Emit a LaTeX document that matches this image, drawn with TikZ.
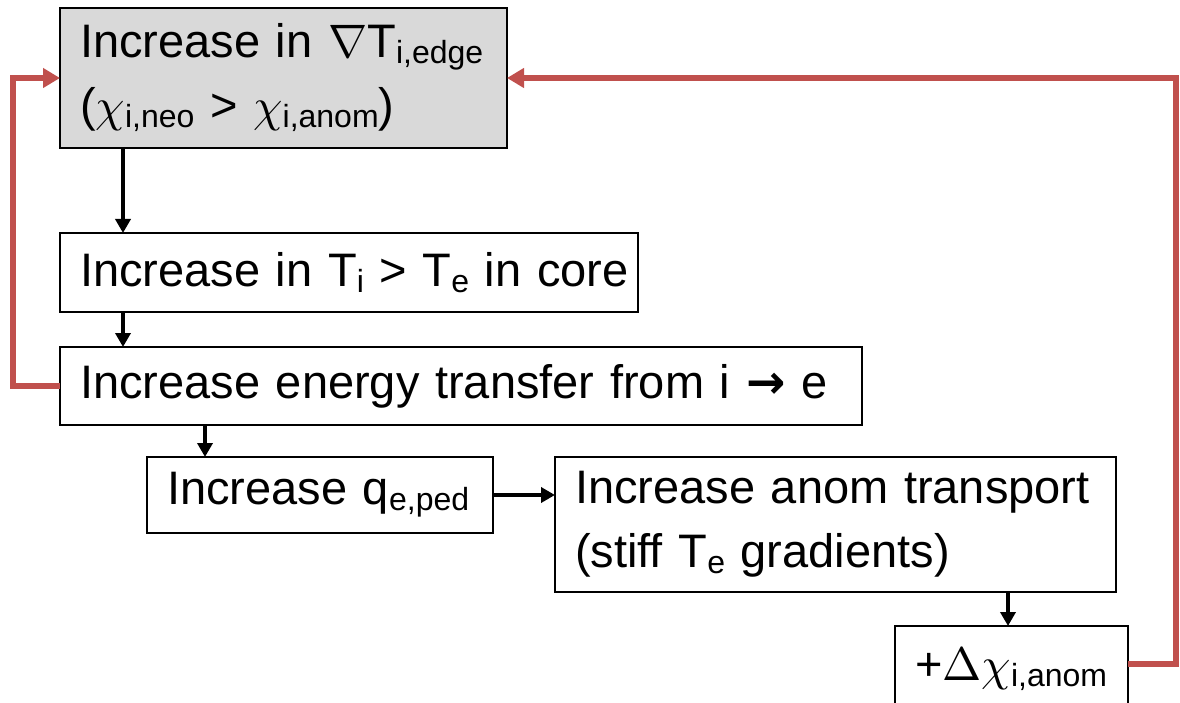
\documentclass[tikz,border=0pt]{standalone}
\usepackage{fontspec}
\usepackage{unicode-math}
\setmainfont{Liberation Sans}
\setmathfont{Latin Modern Math}
\newfontfamily\symfont{DejaVu Sans}
\usetikzlibrary{arrows.meta,positioning}

\definecolor{fbred}{HTML}{C0504D}
\newcommand{\sbs}[1]{\raisebox{-6pt}{\fontsize{32}{32}\selectfont #1}}

\begin{document}
\begin{tikzpicture}[
    x=1pt, y=-1pt,
    >={Triangle[length=14pt,width=15pt]},
    box/.style={draw, line width=2.8pt, outer sep=0pt, inner xsep=20pt, inner ysep=0pt, align=left, anchor=north west, font=\fontsize{47}{64}\selectfont},
    fwd/.style={->, line width=3.5pt},
    back/.style={->, line width=5.5pt, draw=fbred, >={Triangle[length=17pt,width=19pt]}}
]
\useasboundingbox (0,0) rectangle (1180,703);

\node[box, fill=black!15, text width=407pt, minimum height=140pt] (gray) at (60,8) {Increase in $\nabla$T\sbs{i,edge}\\($\chi$\sbs{i,neo} > $\chi$\sbs{i,anom})};
\node[box, text width=538pt, minimum height=79pt, below=85pt of gray.south west, anchor=north west] (core) {\mbox{Increase in T\sbs{i} > T\sbs{e} in core}};
\node[box, text width=762pt, minimum height=78pt, below=35pt of core.south west, anchor=north west] (transfer) {Increase energy transfer from i {\symfont\bfseries →} e};
\node[box, text width=306pt, minimum height=76pt, below=32pt of transfer.south west, anchor=north west, xshift=87pt] (ped) {Increase q\sbs{e,ped}};
\node[box, text width=521pt, minimum height=135pt, right=62pt of ped.north east, anchor=north west] (anom) {Increase anom transport\\(stiff T\sbs{e} gradients)};
\node[box, text width=193pt, minimum height=86pt, below=34pt of anom.south west, anchor=north west, xshift=340pt] (dchi) {+$\Delta\chi$\sbs{i,anom}};

% forward chain
\draw[fwd] ([xshift=63pt]gray.south west) -- ([xshift=63pt]core.north west);
\draw[fwd] ([xshift=63pt]core.south west) -- ([xshift=63pt]transfer.north west);
\draw[fwd] ([xshift=145pt]transfer.south west) -- ([xshift=58pt]ped.north west);
\draw[fwd] (ped.east) -- (ped.east -| anom.west);
\draw[fwd] ([xshift=453pt]anom.south west) -- ([xshift=113pt]dchi.north west);

% feedback loops
\draw[back] (transfer.west) -- ++(-47,0) |- (gray.west);
\draw[back] ([yshift=5pt]dchi.east) -- ++(48,0) |- (gray.east);
\end{tikzpicture}
\end{document}
